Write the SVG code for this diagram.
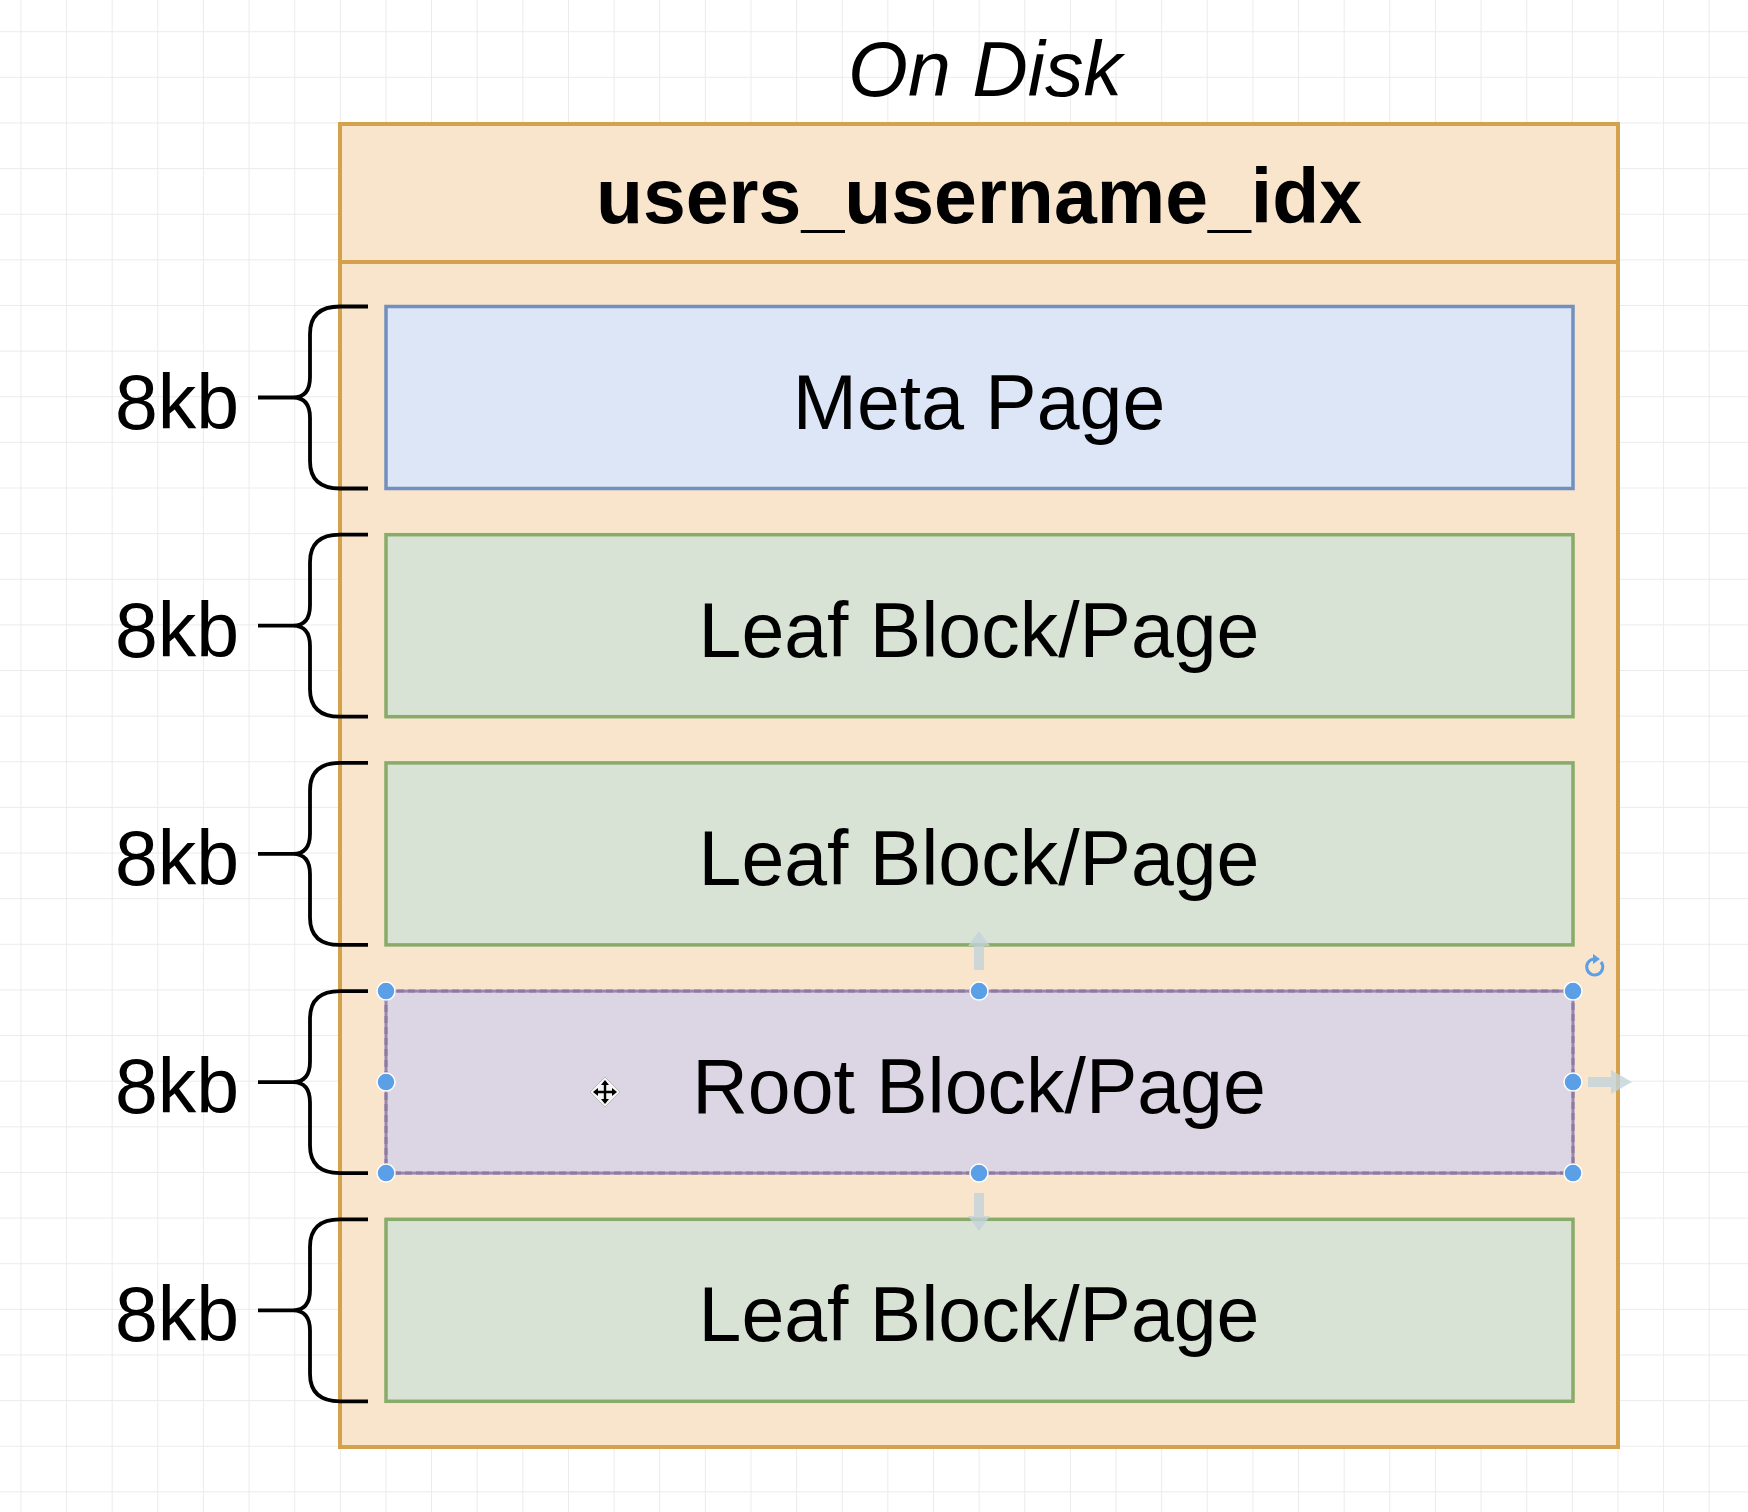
<svg xmlns="http://www.w3.org/2000/svg" width="1748" height="1512" viewBox="0 0 1748 1512">
  <style>
    .lbl { font-family: "Liberation Sans", Arial, sans-serif; font-size: 77px; fill: #000; }
    .ctr { text-anchor: middle; }
    .brace { fill: none; stroke: #000; stroke-width: 3.8; stroke-linecap: butt; }
    .meta { fill: #dce6f7; stroke: #7290bf; stroke-width: 3.5; }
    .leaf { fill: #d8e3d5; stroke: #88ab6a; stroke-width: 3.5; }
    .root { fill: #dcd5e4; stroke: #9a86ae; stroke-width: 3; }
    .handle { fill: #5b9fe6; stroke: #ffffff; stroke-width: 1.5; }
    .ghost { fill: #c3d3d9; opacity: 0.8; }
  </style>
  <defs>
    <pattern id="grid" x="20.4" y="31.2" width="45.63" height="45.63" patternUnits="userSpaceOnUse">
      <path d="M 0 0 H 45.63 M 0 0 V 45.63" fill="none" stroke="#ebebeb" stroke-width="2"/>
    </pattern>
  </defs>

  <rect width="1748" height="1512" fill="#ffffff"/>
  <rect width="1748" height="1512" fill="url(#grid)"/>

  <text id="title" class="lbl ctr" x="985" y="96" font-style="italic">On Disk</text>

  <g id="index-container">
    <rect x="340" y="124" width="1278" height="1323" fill="#f8e5cc" stroke="#d4a24c" stroke-width="4"/>
    <line x1="340" y1="262" x2="1618" y2="262" stroke="#d4a24c" stroke-width="4"/>
    <text class="lbl ctr" x="979" y="223" font-weight="bold" font-size="79">users_username_idx</text>
  </g>

  <g id="meta-page">
    <rect class="meta" x="386" y="306.5" width="1187" height="182"/>
    <text class="lbl ctr" x="979" y="428.5">Meta Page</text>
  </g>
  <g id="leaf-page-1">
    <rect class="leaf" x="386" y="534.7" width="1187" height="182"/>
    <text class="lbl ctr" x="979" y="656.7">Leaf Block/Page</text>
  </g>
  <g id="leaf-page-2">
    <rect class="leaf" x="386" y="762.9" width="1187" height="182"/>
    <text class="lbl ctr" x="979" y="884.9">Leaf Block/Page</text>
  </g>
  <g id="root-page">
    <rect class="root" x="386" y="991.1" width="1187" height="182"/>
    <rect x="386" y="991.1" width="1187" height="182" fill="none" stroke="#8c7aa3" stroke-width="3" stroke-dasharray="7 4"/>
    <text class="lbl ctr" x="979" y="1113.1">Root Block/Page</text>
  </g>
  <g id="leaf-page-3">
    <rect class="leaf" x="386" y="1219.3" width="1187" height="182"/>
    <text class="lbl ctr" x="979" y="1341.3">Leaf Block/Page</text>
  </g>

  <g id="size-labels">
    <text class="lbl" x="115" y="428.5">8kb</text>
    <text class="lbl" x="115" y="656.7">8kb</text>
    <text class="lbl" x="115" y="884.9">8kb</text>
    <text class="lbl" x="115" y="1113.1">8kb</text>
    <text class="lbl" x="115" y="1341.3">8kb</text>
  </g>

  <g id="connectors">
    <path class="brace" d="M 368 306.5 H 340 Q 310 306.5 310 334 V 377 Q 310 397.5 293 397.5 M 258 397.5 H 293 Q 310 397.5 310 418 V 461 Q 310 488.5 340 488.5 H 368"/>
    <path class="brace" d="M 368 534.7 H 340 Q 310 534.7 310 562.2 V 605.2 Q 310 625.7 293 625.7 M 258 625.7 H 293 Q 310 625.7 310 646.2 V 689.2 Q 310 716.7 340 716.7 H 368"/>
    <path class="brace" d="M 368 762.9 H 340 Q 310 762.9 310 790.4 V 833.4 Q 310 853.9 293 853.9 M 258 853.9 H 293 Q 310 853.9 310 874.4 V 917.4 Q 310 944.9 340 944.9 H 368"/>
    <path class="brace" d="M 368 991.1 H 340 Q 310 991.1 310 1018.6 V 1061.6 Q 310 1082.1 293 1082.1 M 258 1082.1 H 293 Q 310 1082.1 310 1102.6 V 1145.6 Q 310 1173.1 340 1173.1 H 368"/>
    <path class="brace" d="M 368 1219.3 H 340 Q 310 1219.3 310 1246.8 V 1289.8 Q 310 1310.3 293 1310.3 M 258 1310.3 H 293 Q 310 1310.3 310 1330.8 V 1373.8 Q 310 1401.3 340 1401.3 H 368"/>
  </g>

  <g id="selection-ui">
    <path class="ghost" d="M 974 970 V 946 H 968 L 979 931 L 990 946 H 984 V 970 Z"/>
    <path class="ghost" d="M 974 1193 V 1216 H 968 L 979 1231 L 990 1216 H 984 V 1193 Z"/>
    <path class="ghost" d="M 1588 1077 H 1611 V 1070 L 1632 1082 L 1611 1094 V 1087 H 1588 Z"/>
    <circle class="handle" cx="386" cy="991.1" r="9"/>
    <circle class="handle" cx="979" cy="991.1" r="9"/>
    <circle class="handle" cx="1573" cy="991.1" r="9"/>
    <circle class="handle" cx="386" cy="1082.1" r="9"/>
    <circle class="handle" cx="1573" cy="1082.1" r="9"/>
    <circle class="handle" cx="386" cy="1173.1" r="9"/>
    <circle class="handle" cx="979" cy="1173.1" r="9"/>
    <circle class="handle" cx="1573" cy="1173.1" r="9"/>
    <path d="M 1601 962 A 8 8 0 1 1 1594 959" fill="none" stroke="#5b9fe6" stroke-width="3"/>
    <path d="M 1593 954 L 1600 959 L 1593 964 Z" fill="#5b9fe6"/>
    <path d="M 605 1077 L 620 1092 L 605 1107 L 590 1092 Z" fill="#f4f4f4" stroke="#bbbbbb" stroke-width="1"/>
    <path d="M 605 1082 V 1102 M 595 1092 H 615" stroke="#000" stroke-width="2.4"/>
    <path d="M 601 1085 L 605 1080 L 609 1085 Z M 601 1099 L 605 1104 L 609 1099 Z M 598 1088 L 593 1092 L 598 1096 Z M 612 1088 L 617 1092 L 612 1096 Z" fill="#000"/>
  </g>
</svg>
